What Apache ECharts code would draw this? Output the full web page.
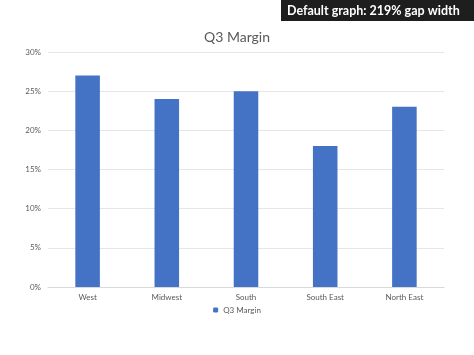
<!DOCTYPE html>
<html>
<head>
<meta charset="utf-8">
<script src="https://cdn.jsdelivr.net/npm/echarts@6/dist/echarts.min.js"></script>
<style>
html, body { margin: 0; padding: 0; background: #fff; }
#chart { width: 474px; height: 355px; }
</style>
</head>
<body>
<div id="chart"></div>
<script>
var regions = ['West', 'Midwest', 'South', 'South East', 'North East'];
var margin = [27, 24, 25, 18, 23];
var yTicks = [0, 5, 10, 15, 20, 25, 30];

var myChart = echarts.init(document.getElementById('chart'));

// 标题条 + 图表
myChart.setOption({
	animation: false,
	textStyle: { fontFamily: 'Lato' },
	title: {
		text: 'Q3 Margin',
		left: 'center',
		top: 25,
		textStyle: { color: '#595959', fontSize: 14, fontWeight: 'normal', fontFamily: 'Lato' }
	},
	graphic: [
		{
			type: 'rect',
			right: 0,
			top: 0,
			shape: { width: 193, height: 21 },
			style: { fill: '#1e1e1e' }
		},
		{
			type: 'text',
			left: 287,
			top: 4,
			style: { text: 'Default graph: 219% gap width', fill: '#fff', font: 'bold 12.5px Lato' }
		}
	],
	legend: {
		bottom: 36,
		left: 'center',
		itemWidth: 5,
		itemHeight: 5,
		itemGap: 4,
		textStyle: { color: '#595959', fontSize: 8 },
		data: ['Q3 Margin']
	},
	grid: { left: 48, right: 30, top: 52, bottom: 68 },
	xAxis: {
		type: 'category',
		data: regions,
		axisLine: { lineStyle: { color: '#d9d9d9' } },
		axisTick: { show: false },
		axisLabel: { color: '#595959', fontSize: 8, margin: 6 }
	},
	yAxis: {
		type: 'value',
		min: yTicks[0],
		max: yTicks[yTicks.length - 1],
		interval: 5,
		axisLine: { show: false },
		axisTick: { show: false },
		splitLine: { lineStyle: { color: '#e6e6e6' } },
		axisLabel: { color: '#595959', fontSize: 8, margin: 7, formatter: '{value}%' }
	},
	series: [{
		name: 'Q3 Margin',
		type: 'bar',
		data: margin,
		barCategoryGap: '69%',
		itemStyle: { color: '#4472c4' }
	}]
});
</script>
</body>
</html>
